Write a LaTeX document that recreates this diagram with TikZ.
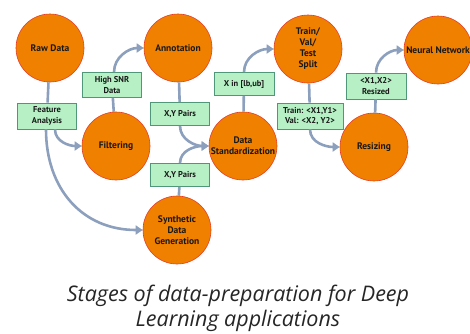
\documentclass[tikz,border=0pt]{standalone}
\usepackage{fontspec}
\setmainfont{PT Sans}
\newfontfamily\capfont{Open Sans}
\usetikzlibrary{arrows.meta}
\definecolor{stageor}{RGB}{240,128,0}
\definecolor{stagerim}{RGB}{228,60,40}
\definecolor{tagfill}{RGB}{182,240,196}
\definecolor{tagrim}{RGB}{80,150,120}
\definecolor{linkcol}{RGB}{140,160,190}
\begin{document}
\begin{tikzpicture}[x=1pt,y=-1pt,
	stage/.style={circle,fill=stageor,draw=stagerim,line width=.6pt,minimum size=68pt,inner sep=0pt,align=center,font=\bfseries\fontsize{9.5}{11}\selectfont,text=black!90},
	tag/.style={rectangle,fill=tagfill,draw=tagrim,line width=.8pt,minimum width=59pt,minimum height=23pt,inner sep=2pt,align=center,font=\bfseries\fontsize{8.5}{10.5}\selectfont,text=black!90},
	link/.style={draw=linkcol,line width=2.6pt},
	flow/.style={link,-{Triangle[width=9pt,length=7pt]}}]
	\useasboundingbox (0,0) rectangle (470,333);
	\node [stage] (raw) at (50,48) {Raw Data};
	\node [stage] (ann) at (178,48) {Annotation};
	\node [stage] (split) at (308,49) {Train/\\Val/\\Test\\Split};
	\node [stage] (nn) at (438,50) {Neural Network};
	\node [stage] (filt) at (116,146) {Filtering};
	\node [stage] (std) at (243,146) {Data\\Standardization};
	\node [stage] (rsz) at (374,147) {Resizing};
	\node [stage] (syn) at (177,230) {Synthetic\\Data\\Generation};
	\node [tag,minimum height=26pt] (fa) at (47,116) {Feature\\Analysis};
	\node [tag,minimum height=25pt] (hsnr) at (112,85) {High SNR\\Data};
	\node [tag] (xy1) at (180,114) {X,Y Pairs};
	\node [tag] (xy2) at (180,175) {X,Y Pairs};
	\node [tag,minimum width=60pt] (lim) at (244,84) {X in [lb,ub]};
	\node [tag,minimum width=66pt,minimum height=26pt] (tv) at (310,116) {Train: <X1,Y1>\\Val: <X2, Y2>};
	\node [tag,minimum width=60pt,minimum height=26pt] (rs) at (376,86) {<X1,X2>\\Resized};
	\draw [link] (raw) -- (fa);
	\draw [flow] ([xshift=8pt]fa.south) to [out=-90,in=180] (filt.west);
	\draw [flow] ([xshift=-1pt]fa.south) to [out=-90,in=180,looseness=1.1] (syn.west);
	\draw [link] (filt) -- (hsnr);
	\draw [flow] ([xshift=2pt]hsnr.north) to [out=90,in=180] (ann.west);
	\draw [link] (ann) -- (xy1);
	\draw [flow] (xy1.south) to [out=-90,in=180] (std.west);
	\draw [link] (syn) -- (xy2);
	\draw [flow] (xy2.north) to [out=90,in=180] (std.west);
	\draw [link] (std) -- (lim);
	\draw [flow] (lim.north) to [out=90,in=180] (split.west);
	\draw [link] (split) -- (tv);
	\draw [flow] (tv.south) to [out=-90,in=180] (rsz.west);
	\draw [link] (rsz) -- (rs);
	\draw [flow] (rs.north) to [out=90,in=180] (nn.west);
	\node [font=\capfont\itshape\fontsize{21.5}{25}\selectfont,text=black!85,align=center] (cap) at (238,308.5) {Stages of data-preparation for Deep\\Learning applications};
\end{tikzpicture}
\end{document}
